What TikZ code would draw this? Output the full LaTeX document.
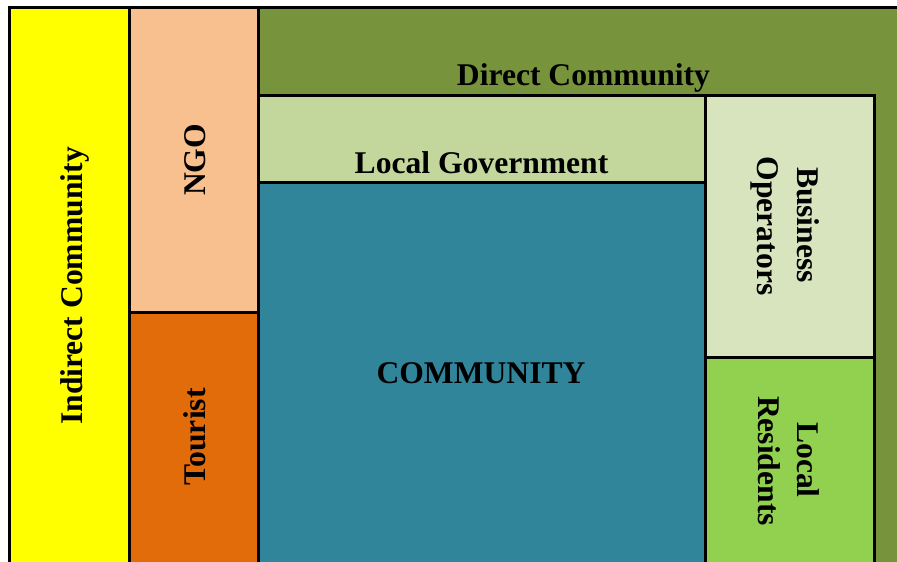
\documentclass[tikz,border=0pt]{standalone}
\usepackage{fontspec}
\setmainfont{Liberation Serif}
\definecolor{cyellow}{RGB}{255,255,0}
\definecolor{cpeach}{RGB}{248,191,143}
\definecolor{corange}{RGB}{227,108,10}
\definecolor{colive}{RGB}{119,147,60}
\definecolor{clg}{RGB}{195,214,155}
\definecolor{cteal}{RGB}{49,133,155}
\definecolor{cbo}{RGB}{215,228,189}
\definecolor{clr}{RGB}{146,208,80}
\tikzset{
  region/.style={draw=black, line width=3bp},
  lbl/.style={font=\fontsize{31.6bp}{40bp}\selectfont\bfseries, inner sep=0pt, anchor=base, text=black},
}
\begin{document}
\begin{tikzpicture}[x=1bp,y=-1bp]
\useasboundingbox (0,0) rectangle (897,562);
\clip (0,0) rectangle (897,562);
\fill[white] (0,0) rectangle (897,562);
% regions
\path[region, fill=cyellow] (9.5,7.5) rectangle (129.5,580);
\path[region, fill=cpeach] (129.5,7.5) rectangle (258.5,312.5);
\path[region, fill=corange] (129.5,312.5) rectangle (258.5,580);
\path[region, fill=colive] (258.5,7.5) rectangle (910,580);
\path[region, fill=clg] (258.5,95.5) rectangle (705.5,182.5);
\path[region, fill=cteal] (258.5,182.5) rectangle (705.5,580);
\path[region, fill=cbo] (705.5,95.5) rectangle (874.5,357.5);
\path[region, fill=clr] (705.5,357.5) rectangle (874.5,580);
% labels
\node[lbl] (direct) at (583.5,86) {Direct Community};
\node[lbl] (lgov) at (481.5,174) {Local Government};
\node[lbl] (comm) at (481,383.5) {COMMUNITY};
\node[lbl, rotate=90] (indirect) at (82,286) {Indirect Community};
\node[lbl, rotate=90] (ngo) at (205,160) {NGO};
\node[lbl, rotate=90] (tourist) at (205,437) {Tourist};
\node[lbl, rotate=-90] (bus1) at (797,225) {Business};
\node[lbl, rotate=-90] (bus2) at (757,226) {Operators};
\node[lbl, rotate=-90] (loc1) at (797,460) {Local};
\node[lbl, rotate=-90] (loc2) at (758,461) {Residents};
\end{tikzpicture}
\end{document}
